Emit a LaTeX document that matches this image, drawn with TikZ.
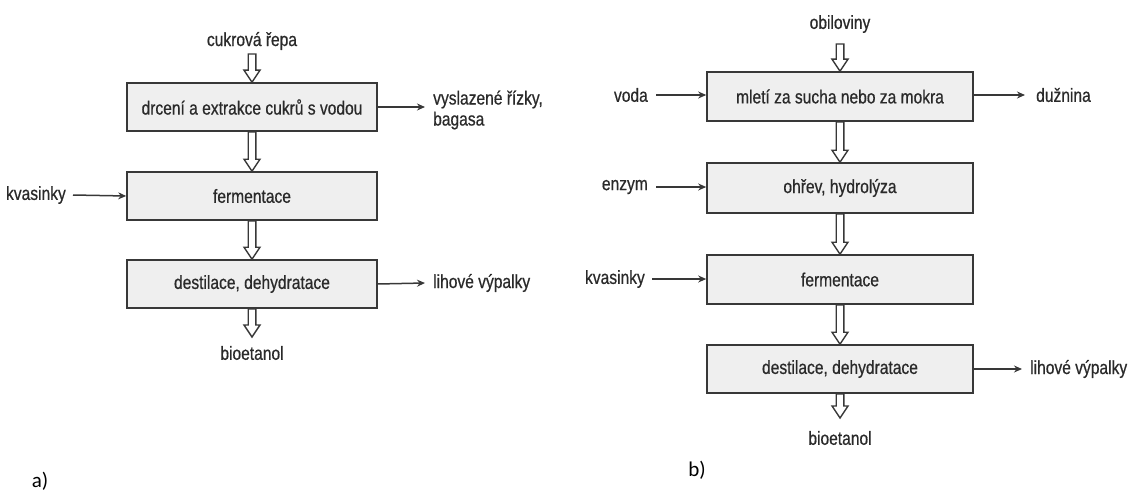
\documentclass[tikz,border=0pt]{standalone}
\usepackage{fontspec}
\setmainfont{Liberation Sans}[FakeStretch=0.82,FakeBold=0.6]
\newfontfamily\labfont{Carlito}
\usetikzlibrary{arrows.meta,calc}
\definecolor{boxfill}{HTML}{EFEFEF}
\definecolor{linec}{HTML}{383838}
\definecolor{txtc}{HTML}{2A2A2A}
\tikzset{
  procbox/.style={draw=linec,line width=1.6pt,fill=boxfill,minimum height=48pt,inner sep=0pt,text=txtc,font=\fontsize{19}{21}\selectfont},
  lbl/.style={text=txtc,font=\fontsize{19}{21}\selectfont,inner sep=0pt},
  thin/.style={draw=linec,line width=1.5pt,-{Stealth[length=8pt,width=7pt]}},
  hollow/.style={draw=linec,line width=1.4pt,fill=white,line join=miter},
  sublbl/.style={text=black,font=\labfont\fontsize{21}{24}\selectfont,inner sep=0pt}
}
\newcommand\harrow[2]{\draw[hollow] let \p1=(#1), \p2=(#2) in
  (\x1-3.8pt,\y1) -- (\x1+3.8pt,\y1) -- (\x1+3.8pt,\y2+12pt) -- (\x1+8pt,\y2+12pt)
  -- (\x1,\y2) -- (\x1-8pt,\y2+12pt) -- (\x1-3.8pt,\y2+12pt) -- cycle;}
\begin{document}
\begin{tikzpicture}[x=1pt,y=-1pt]
\useasboundingbox (0,0) rectangle (1139,492);
% ---------- a) ----------
\node[procbox,minimum width=250pt] (A1) at (252,107) {drcení a extrakce cukrů s vodou};
\node[procbox,minimum width=250pt] (A2) at (252,196) {fermentace};
\node[procbox,minimum width=250pt] (A3) at (252,284) {destilace, dehydratace};
\node[lbl] (A0) at (252,41) {cukrová řepa};
\coordinate (A0s) at (252,54);
\node[lbl,align=left,anchor=west] (Aout1) at (433,110) {vyslazené řízky,\\bagasa};
\node[lbl,anchor=east] (Ain2) at (66,195) {kvasinky};
\node[lbl,anchor=west] (Aout3) at (433,283) {lihové výpalky};
\coordinate (Atip) at (252,337);
\node[lbl] (Aend) at (252,353) {bioetanol};
\harrow{A0s}{A1.north}
\harrow{A1.south}{A2.north}
\harrow{A2.south}{A3.north}
\harrow{A3.south}{Atip}
\draw[thin] (A1.east) -- (425,107);
\draw[thin] ($(Ain2.east)+(7,0)$) -- (A2.west);
\draw[thin] (A3.east) -- ($(Aout3.west)+(-8,0)$);
\node[sublbl] (la) at (40,481) {a)};
% ---------- b) ----------
\node[procbox,minimum width=266pt,minimum height=49pt] (B1) at (840,96.5) {mletí za sucha nebo za mokra};
\node[procbox,minimum width=266pt,minimum height=50pt] (B2) at (840,188) {ohřev, hydrolýza};
\node[procbox,minimum width=266pt,minimum height=49pt] (B3) at (840,279.5) {fermentace};
\node[procbox,minimum width=266pt] (B4) at (840,369) {destilace, dehydratace};
\node[lbl] (B0) at (840,24) {obiloviny};
\coordinate (B0s) at (840,44);
\node[lbl,anchor=east] (Bin1) at (648,95) {voda};
\node[lbl,anchor=east] (Bin2) at (648,187) {enzym};
\node[lbl,anchor=east] (Bin3) at (645,279) {kvasinky};
\node[lbl,anchor=west] (Bout1) at (1036,95) {dužnina};
\node[lbl,anchor=west] (Bout4) at (1030,369) {lihové výpalky};
\coordinate (Btip) at (840,418);
\node[lbl] (Bend) at (840,438) {bioetanol};
\harrow{B0s}{B1.north}
\harrow{B1.south}{B2.north}
\harrow{B2.south}{B3.north}
\harrow{B3.south}{B4.north}
\harrow{B4.south}{Btip}
\draw[thin] ($(Bin1.east)+(8,0)$) -- (Bin1.east -| B1.west);
\draw[thin] ($(Bin2.east)+(8,0)$) -- (Bin2.east -| B2.west);
\draw[thin] ($(Bin3.east)+(7,0)$) -- (Bin3.east -| B3.west);
\draw[thin] (B1.east |- Bout1.west) -- ($(Bout1.west)+(-11,0)$);
\draw[thin] (B4.east) -- ($(Bout4.west)+(-8,0)$);
\node[sublbl] (lb) at (697,470) {b)};
\end{tikzpicture}
\end{document}
